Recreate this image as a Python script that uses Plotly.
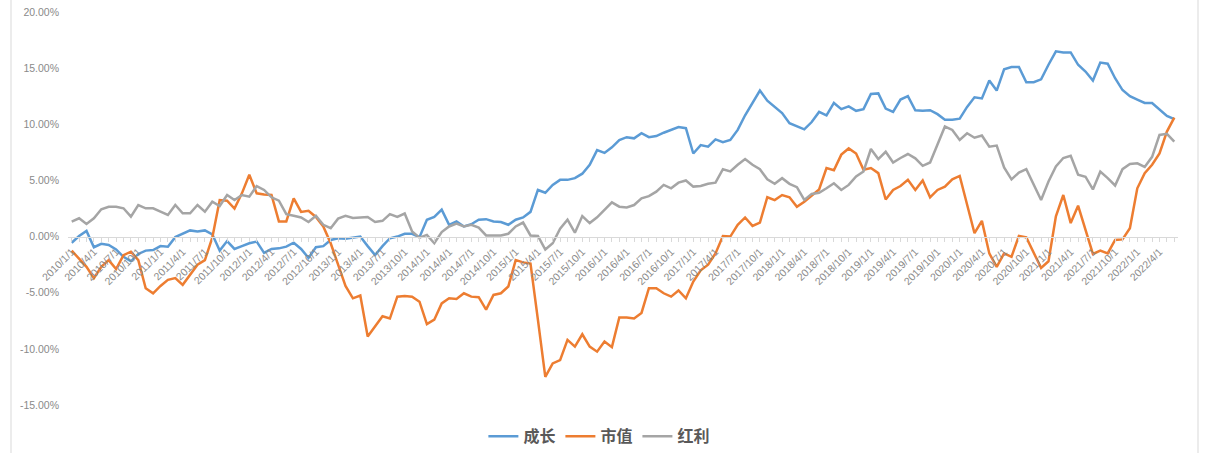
import plotly.graph_objects as go

# Monthly categories 2010/1/1 .. 2022/6/1
months = [f"{2010 + k // 12}/{k % 12 + 1}/1" for k in range(150)]

growth = [
    -0.55, 0.05, 0.5, -0.95, -0.65, -0.75, -1.15, -1.8, -2.2, -1.55,
    -1.25, -1.2, -0.85, -0.9, -0.05, 0.25, 0.55, 0.45, 0.55, 0.2,
    -1.25, -0.4, -1.1, -0.85, -0.6, -0.45, -1.45, -1.1, -1.05, -0.9,
    -0.55, -1.1, -1.9, -0.95, -0.85, -0.3, -0.15, -0.2, -0.1, 0.0,
    -0.85, -1.65, -0.85, -0.15, 0.0, 0.25, 0.25, -0.05, 1.5, 1.75,
    2.4, 1.05, 1.35, 0.9, 1.1, 1.5, 1.55, 1.35, 1.3, 1.05,
    1.5, 1.7, 2.2, 4.15, 3.9, 4.6, 5.05, 5.05, 5.2, 5.6,
    6.4, 7.7, 7.45, 7.95, 8.6, 8.85, 8.75, 9.2, 8.85, 8.95,
    9.25, 9.5, 9.75, 9.65, 7.4, 8.15, 8.0, 8.65, 8.4, 8.6,
    9.5, 10.8, 11.9, 13.0, 12.1, 11.55, 11.0, 10.1, 9.85, 9.55,
    10.2, 11.1, 10.8, 11.9, 11.35, 11.6, 11.2, 11.35, 12.7, 12.75,
    11.4, 11.1, 12.2, 12.5, 11.25, 11.2, 11.25, 10.9, 10.4, 10.4,
    10.5, 11.55, 12.4, 12.3, 13.9, 13.0, 14.9, 15.1, 15.1, 13.75,
    13.75, 14.0, 15.3, 16.5, 16.4, 16.4, 15.3, 14.7, 13.9, 15.5,
    15.4, 14.1, 13.05, 12.5, 12.2, 11.9, 11.9, 11.3, 10.75, 10.45,
]

size = [
    -1.25, -1.95, -2.7, -3.7, -2.7, -2.1, -2.9, -1.65, -1.35, -2.1,
    -4.6, -5.05, -4.4, -3.85, -3.7, -4.3, -3.4, -2.5, -2.1, -0.1,
    3.25, 3.2, 2.5, 3.85, 5.5, 3.85, 3.75, 3.7, 1.35, 1.35,
    3.4, 2.2, 2.3, 1.75, 0.9, -0.6, -2.5, -4.4, -5.5, -5.25,
    -8.9, -8.0, -7.1, -7.3, -5.35, -5.3, -5.35, -5.8, -7.8, -7.4,
    -5.95, -5.5, -5.55, -5.05, -5.35, -5.4, -6.5, -5.2, -5.05, -4.45,
    -2.1, -2.3, -2.4, -7.4, -12.5, -11.3, -11.0, -9.2, -9.8, -8.7,
    -9.8, -10.25, -9.35, -9.85, -7.2, -7.2, -7.3, -6.8, -4.6, -4.6,
    -5.05, -5.35, -4.8, -5.5, -4.0, -3.0, -2.5, -1.5, 0.05, 0.0,
    1.05, 1.7, 0.95, 1.25, 3.5, 3.25, 3.7, 3.5, 2.65, 3.1,
    3.65, 4.2, 6.1, 5.9, 7.3, 7.85, 7.4, 5.95, 6.1, 5.65,
    3.3, 4.15, 4.5, 5.05, 4.15, 5.0, 3.5, 4.15, 4.45, 5.1,
    5.4, 2.9, 0.3, 1.4, -1.5, -2.7, -1.5, -1.8, 0.05, -0.07,
    -1.5, -2.8, -2.2, 1.8, 3.7, 1.2, 2.75, 0.6, -1.55, -1.25,
    -1.5, -0.3, -0.25, 0.75, 4.3, 5.65, 6.4, 7.4, 9.35, 10.6,
]

dividend = [
    1.33, 1.63, 1.12, 1.63, 2.43, 2.66, 2.66, 2.52, 1.77, 2.81,
    2.52, 2.52, 2.22, 1.92, 2.81, 2.07, 2.07, 2.81, 2.22, 3.1,
    2.72, 3.7, 3.26, 3.7, 3.55, 4.5, 4.15, 3.5, 3.2, 2.0,
    1.85, 1.7, 1.3, 1.85, 1.05, 0.75, 1.6, 1.85, 1.65, 1.7,
    1.75, 1.3, 1.4, 2.0, 1.75, 2.05, 0.45, -0.1, 0.15, -0.6,
    0.4, 0.9, 1.15, 0.9, 1.05, 0.8, 0.1, 0.1, 0.1, 0.25,
    0.9, 1.25, 0.1, 0.05, -1.15, -0.6, 0.7, 1.5, 0.35, 1.83,
    1.2, 1.72, 2.43, 3.05, 2.66, 2.6, 2.81, 3.4, 3.6, 4.0,
    4.6, 4.3, 4.8, 5.0, 4.45, 4.5, 4.7, 4.8, 6.0, 5.8,
    6.4, 6.9, 6.4, 6.0, 5.1, 4.7, 5.2, 4.7, 4.4, 3.26,
    3.8, 3.9, 4.3, 4.75, 4.15, 4.6, 5.35, 5.8, 7.8, 6.9,
    7.55, 6.6, 7.0, 7.35, 6.97, 6.3, 6.6, 8.2, 9.8, 9.5,
    8.6, 9.2, 8.8, 9.0, 8.0, 8.1, 6.15, 5.1, 5.7, 6.0,
    4.6, 3.26, 4.9, 6.25, 7.0, 7.2, 5.5, 5.33, 4.2, 5.78,
    5.2, 4.55, 6.0, 6.46, 6.52, 6.2, 7.1, 9.05, 9.15, 8.45,
]

series_names = ["成长", "市值", "红利"]
series_colors = ["#5B9BD5", "#ED7D31", "#A5A5A5"]

# x tick labels every quarter (2010/1/1 ... 2022/4/1)
label_set = set(months[0:148:3])
tick_text = [m if m in label_set else "" for m in months]

y_tickvals = [-15, -10, -5, 0, 5, 10, 15, 20]
y_ticktext = ["-15.00%", "-10.00%", "-5.00%", "0.00%", "5.00%", "10.00%", "15.00%", "20.00%"]

fig = go.Figure()
for name, vals, col in zip(series_names, [growth, size, dividend], series_colors):
    fig.add_trace(go.Scatter(
        x=months, y=vals, name=name, mode="lines",
        line=dict(color=col, width=2.5),
        hovertemplate="%{x}: %{y:.2f}%<extra>" + name + "</extra>",
    ))

axis_font = dict(family="Liberation Sans, Arial, sans-serif", size=10.5, color="#8a8a8a")

fig.update_layout(
    width=1206, height=453,
    margin=dict(l=68, r=28, t=12, b=48),
    paper_bgcolor="white", plot_bgcolor="white",
    showlegend=True,
    legend=dict(
        orientation="h", xref="container", yref="container",
        x=0.497, xanchor="center", y=0.037, yanchor="middle",
        font=dict(family="Noto Sans CJK SC", size=16, color="#595959", weight="bold"),
        itemwidth=30, tracegroupgap=0,
    ),
    xaxis=dict(
        type="category", range=[-0.5, 149.5],
        anchor="free", position=15 / 35, automargin=False,
        tickmode="array", tickvals=months, ticktext=tick_text,
        tickangle=-45, tickfont=axis_font,
        showline=True, linecolor="#d9d9d9", linewidth=1,
        ticks="outside", ticklen=4, tickcolor="#d9d9d9",
        showgrid=False, zeroline=False,
    ),
    yaxis=dict(
        range=[-15, 20], tickmode="array", tickvals=y_tickvals, ticktext=y_ticktext,
        tickfont=axis_font, showgrid=False, zeroline=False, showline=False,
        ticklabelstandoff=8, automargin=False,
    ),
    shapes=[
        dict(type="line", xref="paper", yref="paper",
             x0=(11 - 68) / 1110, x1=(11 - 68) / 1110, y0=(405 - 0) / 393, y1=(405 - 453) / 393,
             line=dict(color="#d9d9d9", width=1), layer="below"),
        dict(type="line", xref="paper", yref="paper",
             x0=(1198 - 68) / 1110, x1=(1198 - 68) / 1110, y0=(405 - 0) / 393, y1=(405 - 453) / 393,
             line=dict(color="#d9d9d9", width=1), layer="below"),
    ],
)

fig.write_html(
    "out.html",
    config={"displayModeBar": False},
    post_script="document.body.style.margin='0';document.body.style.overflow='hidden';",
)
